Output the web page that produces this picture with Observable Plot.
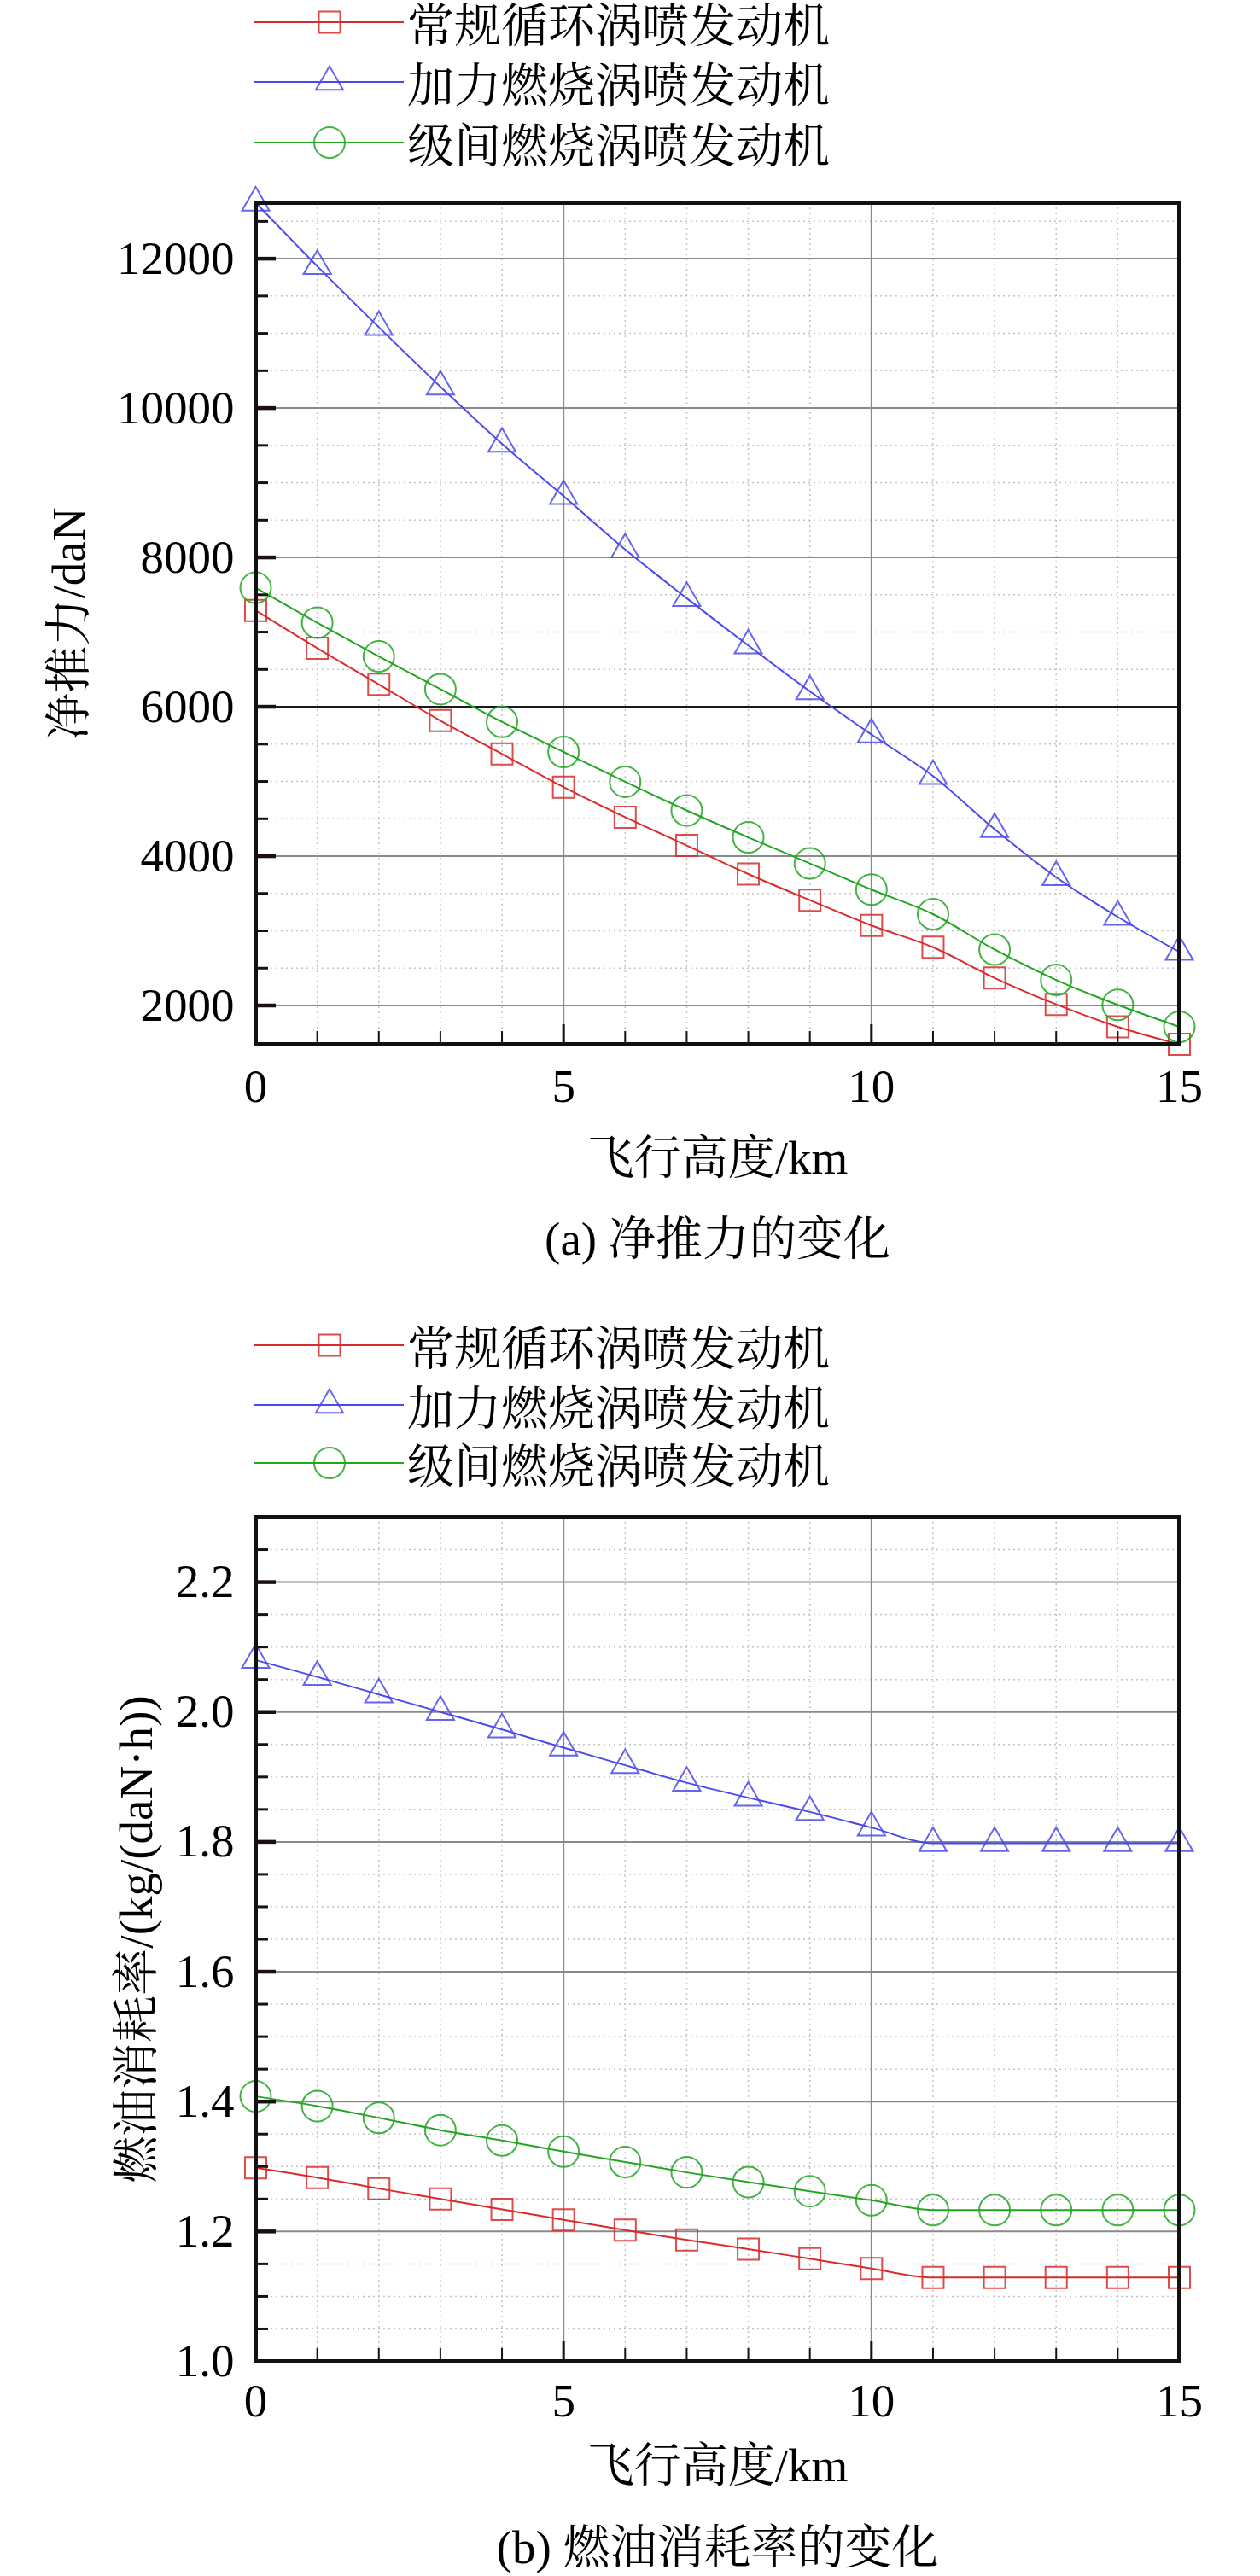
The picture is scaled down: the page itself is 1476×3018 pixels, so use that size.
<!DOCTYPE html>
<html>
<head>
<meta charset="utf-8">
<script src="https://cdn.jsdelivr.net/npm/d3@7"></script>
<script src="https://cdn.jsdelivr.net/npm/@observablehq/plot@0.6"></script>
<style>
  body { margin: 0; background: #fff; }
  #page { position: relative; width: 1476px; height: 3018px; overflow: hidden;
          font-family: 'Liberation Serif', 'Noto Serif CJK SC', 'Noto Sans CJK SC', serif; }
  #page svg { position: absolute; left: 0; }
</style>
</head>
<body>
<div id="page"></div>
<script>
// ---------------- data ----------------
const altitude = [0, 1, 2, 3, 4, 5, 6, 7, 8, 9, 10, 11, 12, 13, 14, 15];
const seriesNames = ["常规循环涡喷发动机", "加力燃烧涡喷发动机", "级间燃烧涡喷发动机"];

// (a) net thrust, daN
const thrustConventional = [7290, 6784, 6300, 5814, 5369, 4924, 4521, 4142, 3760, 3410, 3072, 2780, 2368, 2015, 1715, 1480];
const thrustAfterburner  = [12750, 11900, 11083, 10286, 9521, 8820, 8107, 7454, 6821, 6207, 5629, 5072, 4360, 3718, 3186, 2718];
const thrustInterstage   = [7594, 7126, 6674, 6236, 5798, 5395, 4996, 4612, 4251, 3902, 3552, 3223, 2749, 2342, 2008, 1715];

// (b) specific fuel consumption, kg/(daN·h)
const sfcConventional = [1.298, 1.283, 1.266, 1.250, 1.234, 1.218, 1.202, 1.187, 1.173, 1.158, 1.143, 1.129, 1.129, 1.129, 1.129, 1.129];
const sfcAfterburner  = [2.080, 2.054, 2.027, 2.000, 1.973, 1.945, 1.918, 1.891, 1.868, 1.846, 1.822, 1.798, 1.798, 1.798, 1.798, 1.798];
const sfcInterstage   = [1.408, 1.393, 1.375, 1.356, 1.340, 1.323, 1.307, 1.291, 1.276, 1.262, 1.248, 1.233, 1.233, 1.233, 1.233, 1.233];

// ticks
const xMajorTicks = [0, 5, 10, 15];
const xMinorTicks = [1, 2, 3, 4, 6, 7, 8, 9, 11, 12, 13, 14];
const thrustMajorTicks = [2000, 4000, 6000, 8000, 10000, 12000];
const thrustMinorTicks = [2500, 3000, 3500, 4500, 5000, 5500, 6500, 7000, 7500, 8500, 9000, 9500, 10500, 11000, 11500, 12500];
const sfcMajorTicks = [1.0, 1.2, 1.4, 1.6, 1.8, 2.0, 2.2];
const sfcMinorTicks = [1.05, 1.1, 1.15, 1.25, 1.3, 1.35, 1.45, 1.5, 1.55, 1.65, 1.7, 1.75, 1.85, 1.9, 1.95, 2.05, 2.1, 2.15, 2.25];

const xTitle = "飞行高度/km";
const thrustTitle = "净推力/daN";
const sfcTitle = "燃油消耗率/(kg/(daN·h))";
const captionA = "(a) 净推力的变化";
const captionB = "(b) 燃油消耗率的变化";

// ---------------- styles ----------------
const colors = ["#d92b2b", "#4a4aec", "#22a622"];
const symbols = ["square", "triangle", "circle"];
const radii = [14.1, 11.9, 18];
const FONT = "'Liberation Serif', 'Noto Serif CJK SC', 'Noto Sans CJK SC', serif";
const FS = 55;

function rows(values, name) {
  return altitude.map((a, i) => ({altitude: a, value: values[i], series: name}));
}

function makeChart(cfg) {
  const plotH = cfg.height - cfg.marginTop - cfg.marginBottom;
  const plotW = 1476 - 299 - 95;
  const seriesMarks = [];
  cfg.series.forEach((vals, i) => {
    const data = rows(vals, seriesNames[i]);
    seriesMarks.push(Plot.line(data, {x: "altitude", y: "value", stroke: colors[i], strokeWidth: 2, curve: "monotone-x"}));
  });
  cfg.series.forEach((vals, i) => {
    const data = rows(vals, seriesNames[i]);
    seriesMarks.push(Plot.dot(data, {x: "altitude", y: "value", symbol: symbols[i], r: radii[i],
      stroke: colors[i], strokeWidth: 2, strokeOpacity: 0.85, fill: "none"}));
  });
  return Plot.plot({
    width: 1476,
    height: cfg.height,
    marginLeft: 299,
    marginRight: 95,
    marginTop: cfg.marginTop,
    marginBottom: cfg.marginBottom,
    style: {fontFamily: FONT, fontSize: FS + "px", color: "black", background: "transparent"},
    x: {domain: [0, 15]},
    y: {domain: cfg.yDomain},
    marks: [
      // minor dotted grid
      Plot.ruleX(xMinorTicks, {x: d => d, stroke: "#c4c4c4", strokeWidth: 1.5, strokeDasharray: "2,4"}),
      Plot.ruleY(cfg.minor, {y: d => d, stroke: "#c4c4c4", strokeWidth: 1.5, strokeDasharray: "2,4"}),
      // major grid
      Plot.ruleX(xMajorTicks, {x: d => d, stroke: "#8a8a8a", strokeWidth: 2}),
      Plot.ruleY(cfg.major, {y: d => d, stroke: cfg.darkGrid ? (d => d === cfg.darkGrid ? "#1a1a1a" : "#8a8a8a") : "#8a8a8a", strokeWidth: 2}),
      ...seriesMarks,
      // inward ticks
      Plot.tickY(cfg.minor, {y: d => d, stroke: "#1a1010", strokeWidth: 3, insetRight: plotW - 15}),
      Plot.tickY(cfg.major, {y: d => d, stroke: "#1a1010", strokeWidth: 4.5, insetRight: plotW - 24}),
      Plot.tickX(xMinorTicks, {x: d => d, stroke: "#1a1010", strokeWidth: 2, insetTop: plotH - 15}),
      Plot.tickX(xMajorTicks, {x: d => d, stroke: "#1a1010", strokeWidth: 3, insetTop: plotH - 23}),
      // axes labels
      Plot.axisX(xMajorTicks, {tickSize: 0, tickPadding: cfg.xPad, fontSize: FS, label: null, tickFormat: d => String(d)}),
      Plot.axisY(cfg.major, {tickSize: 0, tickPadding: 25, fontSize: FS, label: null, tickFormat: cfg.fmt}),
      Plot.text([xTitle], {text: d => d, frameAnchor: "bottom", lineAnchor: "middle", textAnchor: "middle", dy: cfg.xTitleDy, fontSize: FS}),
      Plot.text([cfg.caption], {text: d => d, frameAnchor: "bottom", lineAnchor: "middle", textAnchor: "middle", dy: cfg.captionDy, fontSize: FS}),
      Plot.text([cfg.yTitle], {text: d => d, frameAnchor: "left", lineAnchor: "middle", textAnchor: "middle", dx: cfg.yTitleDx, rotate: -90, fontSize: FS}),
      Plot.frame({stroke: "#111", strokeWidth: 5})
    ]
  });
}

function legend(top, ys) {
  const svg = d3.create("svg").attr("width", 1476).attr("height", 220)
    .style("top", top + "px").style("font-family", FONT);
  const d3sym = [d3.symbolSquare, d3.symbolTriangle, d3.symbolCircle];
  seriesNames.forEach((name, i) => {
    const y = ys[i];
    svg.append("line").attr("x1", 298).attr("x2", 473).attr("y1", y).attr("y2", y)
      .attr("stroke", colors[i]).attr("stroke-width", 2);
    svg.append("path").attr("d", d3.symbol(d3sym[i], radii[i] * radii[i] * Math.PI)())
      .attr("transform", `translate(386,${y})`).attr("fill", "none")
      .attr("stroke", colors[i]).attr("stroke-width", 2).attr("stroke-opacity", 0.85);
    svg.append("text").attr("x", 477).attr("y", y + 3).attr("dy", "0.36em")
      .attr("font-size", FS).attr("fill", "black").text(name);
  });
  return svg.node();
}

const page = document.getElementById("page");

const chartA = makeChart({
  height: 1493, marginTop: 237, marginBottom: 270,
  yDomain: [1480, 12750],
  series: [thrustConventional, thrustAfterburner, thrustInterstage],
  major: thrustMajorTicks, minor: thrustMinorTicks, darkGrid: 6000,
  fmt: d => String(d), xPad: 28,
  xTitleDy: 134, captionDy: 229, yTitleDx: -218,
  yTitle: thrustTitle, caption: captionA
});
chartA.style.top = "0px";
page.appendChild(chartA);
page.appendChild(legend(0, [26, 96, 167]));

const chartB = makeChart({
  height: 1518, marginTop: 277, marginBottom: 252,
  yDomain: [1.0, 2.3],
  series: [sfcConventional, sfcAfterburner, sfcInterstage],
  major: sfcMajorTicks, minor: sfcMinorTicks, darkGrid: null,
  fmt: d => d.toFixed(1), xPad: 25,
  xTitleDy: 123, captionDy: 219, yTitleDx: -139,
  yTitle: sfcTitle, caption: captionB
});
chartB.style.top = "1500px";
page.appendChild(chartB);
page.appendChild(legend(1540, [36, 106, 174]));
</script>
</body>
</html>
